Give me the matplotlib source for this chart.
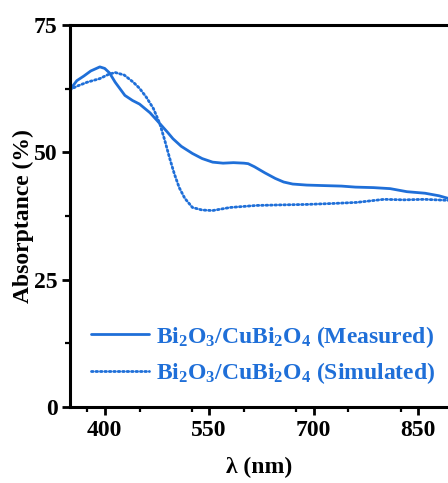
import matplotlib
matplotlib.use("Agg")
import matplotlib.pyplot as plt
from matplotlib.ticker import MultipleLocator

plt.rcParams["font.family"] = "Liberation Serif"
plt.rcParams["font.weight"] = "bold"
plt.rcParams["mathtext.fontset"] = "custom"
plt.rcParams["mathtext.rm"] = "Liberation Serif:bold"
plt.rcParams["mathtext.bf"] = "Liberation Serif:bold"
plt.rcParams["mathtext.it"] = "Liberation Serif:bold"
plt.rcParams["mathtext.default"] = "bf"

BLUE = "#1f6fd8"

# measured absorptance
wl_meas = [350, 355, 360, 370, 380, 393, 400, 407, 415, 429, 440, 450, 465, 475,
           490, 498, 510, 526, 540, 555, 570, 585, 600, 606, 615, 630, 645, 657,
           670, 690, 714, 740, 760, 786, 810, 834, 860, 880, 893]
ab_meas = [62.3, 63.2, 64.1, 65.0, 66.0, 66.8, 66.5, 65.6, 63.8, 61.2, 60.2, 59.5,
           57.8, 56.3, 54.0, 52.7, 51.2, 49.8, 48.8, 48.1, 47.9, 48.0, 47.9, 47.8,
           47.2, 46.0, 44.9, 44.2, 43.8, 43.6, 43.5, 43.4, 43.2, 43.1, 42.9, 42.3,
           42.0, 41.5, 41.0]

# simulated absorptance
wl_sim = [350, 360, 375, 393, 405, 415, 428, 441, 450, 460, 470, 479, 486, 493,
          500, 507, 515, 526, 540, 555, 580, 618, 650, 690, 730, 762, 801, 830,
          859, 893]
ab_sim = [62.3, 63.0, 63.8, 64.5, 65.3, 65.7, 65.2, 63.8, 62.6, 60.8, 58.6, 55.7,
          52.5, 49.0, 45.8, 43.1, 41.0, 39.2, 38.7, 38.6, 39.2, 39.6, 39.7, 39.8,
          40.0, 40.2, 40.8, 40.7, 40.8, 40.6]

fig = plt.figure(figsize=(4.48, 4.83), dpi=100)
ax = fig.add_axes([0.156, 0.157, 0.844, 0.791])

ax.plot(wl_meas, ab_meas, color=BLUE, lw=2.0, solid_capstyle="round",
        label=r"Bi$_2$O$_3$/CuBi$_2$O$_4$ (Measured)")
ax.plot(wl_sim, ab_sim, color=BLUE, lw=2.0, linestyle=(0, (0.6, 1.0)),
        dash_capstyle="round", label=r"Bi$_2$O$_3$/CuBi$_2$O$_4$ (Simulated)")

ax.set_xlim(350, 893)
ax.set_ylim(0, 75)
ax.set_xticks([400, 550, 700, 850])
ax.set_yticks([0, 25, 50, 75])
ax.xaxis.set_minor_locator(MultipleLocator(75))
ax.yaxis.set_minor_locator(MultipleLocator(12.5))

for side in ["left", "bottom", "top"]:
    ax.spines[side].set_linewidth(2.2)
ax.spines["right"].set_visible(False)
ax.tick_params(which="major", direction="out", length=6, width=2.0,
               labelsize=17, top=False, right=False, pad=3)
ax.tick_params(which="minor", direction="out", length=3.5, width=1.6,
               top=False, right=False)

ax.set_xlabel("λ (nm)", fontsize=17, fontweight="bold", labelpad=12)
ax.set_ylabel("Absorptance (%)", fontsize=17, fontweight="bold", labelpad=0)

leg = ax.legend(loc="lower left", bbox_to_anchor=(0.03, 0.03), frameon=False,
                fontsize=17, handlelength=2.45, handletextpad=0.3,
                labelspacing=0.45, borderaxespad=0)
for t in leg.get_texts():
    t.set_color(BLUE)

fig.savefig("out.png", dpi=100)
